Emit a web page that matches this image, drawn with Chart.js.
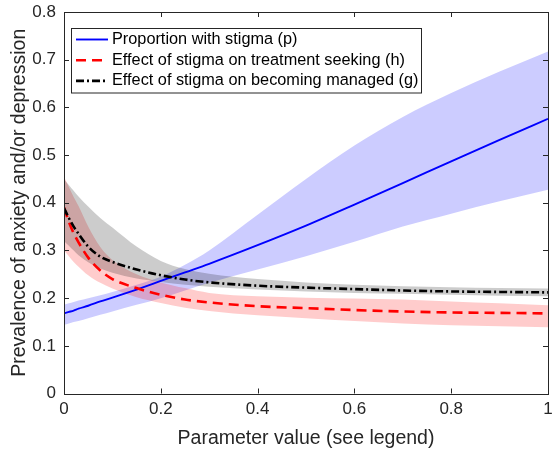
<!DOCTYPE html>
<html>
<head>
<meta charset="utf-8">
<script src="https://cdn.jsdelivr.net/npm/chart.js@4.4.1/dist/chart.umd.min.js"></script>
<style>
  html, body { margin: 0; padding: 0; background: #fff; }
  #wrap { width: 552px; height: 450px; }
</style>
</head>
<body>
<div id="wrap"><canvas id="chart" width="552" height="450"></canvas></div>
<script>
// parameter values along the x axis
const xVals = [0, 0.01, 0.02, 0.03, 0.05, 0.075, 0.1, 0.15, 0.2, 0.25, 0.3, 0.4, 0.5, 0.6, 0.7, 0.8, 0.9, 1];

// proportion with stigma (p)
const pMid   = [0.168, 0.171, 0.174, 0.178, 0.184, 0.193, 0.201, 0.218, 0.236, 0.254, 0.272, 0.311, 0.352, 0.396, 0.441, 0.487, 0.532, 0.576];
const pUpper = [0.186, 0.189, 0.192, 0.195, 0.200, 0.206, 0.213, 0.228, 0.245, 0.270, 0.300, 0.375, 0.450, 0.520, 0.580, 0.630, 0.675, 0.717];
const pLower = [0.144, 0.147, 0.150, 0.152, 0.158, 0.165, 0.172, 0.186, 0.200, 0.216, 0.232, 0.260, 0.288, 0.318, 0.350, 0.377, 0.403, 0.427];

// effect of stigma on treatment seeking (h)
const hMid   = [0.390, 0.360, 0.336, 0.317, 0.285, 0.258, 0.240, 0.221, 0.207, 0.197, 0.191, 0.183, 0.179, 0.175, 0.172, 0.170, 0.169, 0.168];
const hUpper = [0.455, 0.433, 0.412, 0.393, 0.350, 0.307, 0.280, 0.250, 0.233, 0.221, 0.211, 0.204, 0.201, 0.199, 0.197, 0.193, 0.189, 0.185];
const hLower = [0.300, 0.288, 0.276, 0.266, 0.248, 0.232, 0.220, 0.202, 0.190, 0.180, 0.173, 0.164, 0.158, 0.152, 0.147, 0.143, 0.141, 0.139];

// effect of stigma on becoming managed (g)
const gMid   = [0.389, 0.368, 0.350, 0.335, 0.308, 0.287, 0.276, 0.260, 0.248, 0.239, 0.233, 0.226, 0.222, 0.219, 0.216, 0.214, 0.213, 0.212];
const gUpper = [0.450, 0.437, 0.425, 0.413, 0.392, 0.368, 0.348, 0.308, 0.278, 0.261, 0.251, 0.240, 0.233, 0.228, 0.225, 0.223, 0.221, 0.220];
const gLower = [0.320, 0.310, 0.300, 0.290, 0.275, 0.262, 0.253, 0.241, 0.234, 0.228, 0.224, 0.218, 0.214, 0.211, 0.209, 0.207, 0.205, 0.204];

const xTicks = [0, 0.2, 0.4, 0.6, 0.8, 1];
const xTickLabels = ["0", "0.2", "0.4", "0.6", "0.8", "1"];
const yTicks = [0, 0.1, 0.2, 0.3, 0.4, 0.5, 0.6, 0.7, 0.8];
const yTickLabels = ["0", "0.1", "0.2", "0.3", "0.4", "0.5", "0.6", "0.7", "0.8"];

const seriesNames = [
    "Proportion with stigma (p)",
    "Effect of stigma on treatment seeking (h)",
    "Effect of stigma on becoming managed (g)"
];

const axisColor = '#262626';
const fontFamily = '"Liberation Sans", Arial, Helvetica, sans-serif';

function toPoints(ys) {
    return xVals.map((x, i) => ({ x: x, y: ys[i] }));
}

function band(ys, color, target) {
    return {
        data: toPoints(ys),
        borderWidth: 0,
        pointRadius: 0,
        cubicInterpolationMode: 'monotone',
        fill: target ? { target: target, above: color, below: color } : false,
        isBand: true
    };
}

function line(ys, label, color, width, dash) {
    return {
        label: label,
        data: toPoints(ys),
        borderColor: color,
        borderWidth: width,
        borderDash: dash,
        pointRadius: 0,
        cubicInterpolationMode: 'monotone',
        fill: false
    };
}

// later entries are drawn first, so blue band goes at the end of the bands
const datasets = [
    band(gUpper, 'rgba(0,0,0,0.2)', '+1'),
    band(gLower, null, null),
    band(hUpper, 'rgba(255,0,0,0.2)', '+1'),
    band(hLower, null, null),
    band(pUpper, 'rgba(0,0,255,0.2)', '+1'),
    band(pLower, null, null),
    line(gMid, seriesNames[2], '#000000', 2.6, [8, 3, 2, 3]),
    line(hMid, seriesNames[1], '#ff0000', 2.6, [10, 6]),
    line(pMid, seriesNames[0], '#0000ff', 1.9, [])
];

// MATLAB style box with inward ticks on all four sides
const boxPlugin = {
    id: 'boxTicks',
    afterDatasetsDraw(chart) {
        const ctx = chart.ctx;
        const a = chart.chartArea;
        const xs = chart.scales.x;
        const ys = chart.scales.y;
        const len = 5;
        ctx.save();
        ctx.strokeStyle = axisColor;
        ctx.lineWidth = 1;
        ctx.beginPath();
        xTicks.forEach(v => {
            const px = Math.round(xs.getPixelForValue(v)) + 0.5;
            ctx.moveTo(px, a.bottom); ctx.lineTo(px, a.bottom - len);
            ctx.moveTo(px, a.top); ctx.lineTo(px, a.top + len);
        });
        yTicks.forEach(v => {
            const py = Math.round(ys.getPixelForValue(v)) + 0.5;
            ctx.moveTo(a.left, py); ctx.lineTo(a.left + len, py);
            ctx.moveTo(a.right, py); ctx.lineTo(a.right - len, py);
        });
        ctx.stroke();
        ctx.strokeRect(Math.round(a.left) + 0.5, Math.round(a.top) + 0.5,
            Math.round(a.right - a.left), Math.round(a.bottom - a.top));
        ctx.restore();
    }
};

// legend drawn inside the axes, top left
const legendPlugin = {
    id: 'insideLegend',
    afterDraw(chart) {
        const ctx = chart.ctx;
        const a = chart.chartArea;
        const left = a.left + 7, top = a.top + 16;
        const w = 350, rowH = 20.7, h = 64.5;
        ctx.save();
        ctx.fillStyle = '#fff';
        ctx.fillRect(left, top, w, h);
        ctx.strokeStyle = axisColor;
        ctx.lineWidth = 1;
        ctx.strokeRect(Math.round(left) + 0.5, Math.round(top) + 0.5, w, h);
        const lines = chart.data.datasets.filter(d => !d.isBand).reverse();
        lines.forEach((d, i) => {
            const cy = top + 11.5 + i * rowH;
            ctx.beginPath();
            ctx.strokeStyle = d.borderColor;
            ctx.lineWidth = d.borderWidth;
            ctx.setLineDash(d.borderDash);
            ctx.moveTo(left + 5, cy);
            ctx.lineTo(left + 37, cy);
            ctx.stroke();
            ctx.setLineDash([]);
            ctx.fillStyle = '#000';
            ctx.font = '16.3px ' + fontFamily;
            ctx.textBaseline = 'middle';
            ctx.fillText(d.label, left + 41, cy);
        });
        ctx.restore();
    }
};

new Chart('chart', {
    type: 'line',
    data: { datasets: datasets },
    options: {
        responsive: false,
        animation: false,
        layout: { padding: { top: 12, right: 4, left: 0, bottom: 0 } },
        plugins: {
            legend: { display: false },
            tooltip: { enabled: false },
            filler: { drawTime: 'beforeDatasetsDraw' }
        },
        scales: {
            x: {
                type: 'linear',
                min: 0,
                max: 1,
                afterBuildTicks: (scale) => { scale.ticks = xTicks.map(v => ({ value: v })); },
                afterFit: (scale) => {
                    scale.height = 56.5;
                    scale.paddingLeft = 0;
                    scale.paddingRight = 0;
                },
                grid: { display: false, drawTicks: false },
                border: { display: false },
                ticks: {
                    padding: 6,
                    color: axisColor,
                    font: { size: 17, family: fontFamily },
                    maxRotation: 0,
                    callback: (v, i) => xTickLabels[i]
                },
                title: {
                    display: true,
                    text: 'Parameter value (see legend)',
                    color: axisColor,
                    font: { size: 19.5, family: fontFamily },
                    padding: { top: 2, bottom: 0 }
                }
            },
            y: {
                type: 'linear',
                min: 0,
                max: 0.8,
                afterBuildTicks: (scale) => { scale.ticks = yTicks.map(v => ({ value: v })); },
                afterFit: (scale) => {
                    scale.width = 64;
                    scale.paddingTop = 0;
                    scale.paddingBottom = 0;
                },
                grid: { display: false, drawTicks: false },
                border: { display: false },
                ticks: {
                    padding: 8,
                    color: axisColor,
                    font: { size: 17, family: fontFamily },
                    callback: (v, i) => yTickLabels[i]
                },
                title: {
                    display: true,
                    text: 'Prevalence of anxiety and/or depression',
                    color: axisColor,
                    font: { size: 19.5, family: fontFamily },
                    padding: { top: 8, bottom: 0 }
                }
            }
        }
    },
    plugins: [boxPlugin, legendPlugin]
});
</script>
</body>
</html>
